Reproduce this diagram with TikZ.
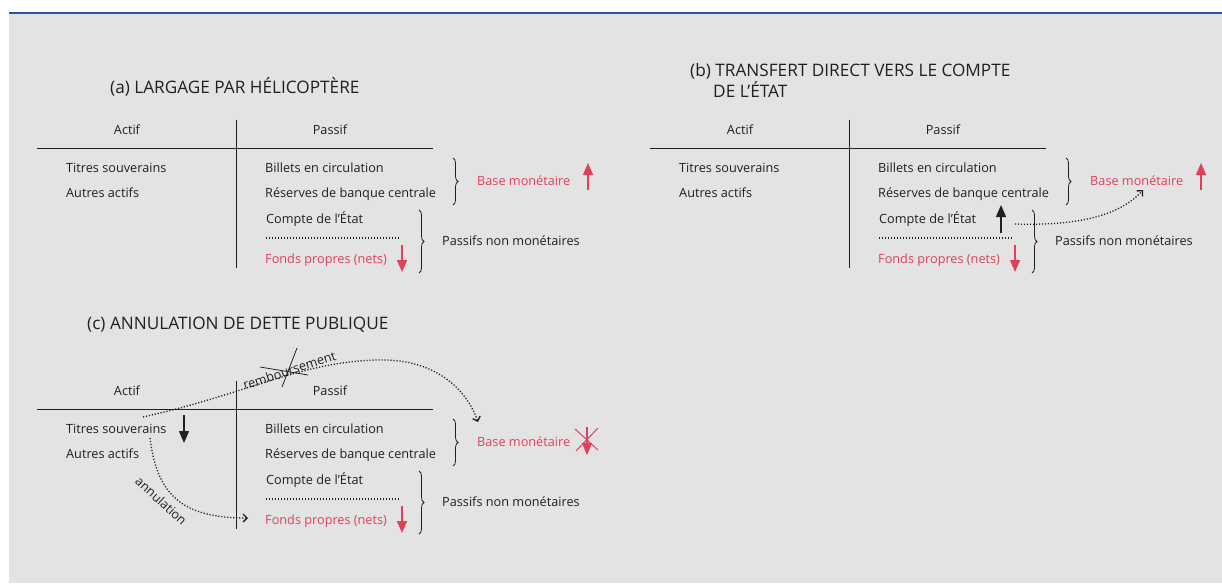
\documentclass[tikz,border=0pt]{standalone}
\usepackage{fontspec}
\setmainfont{Open Sans}
\usetikzlibrary{decorations.pathreplacing,arrows.meta,positioning}

\definecolor{fond}{HTML}{E3E3E3}
\definecolor{bleu}{HTML}{1F5C9E}
\definecolor{rouge}{HTML}{E0405A}
\definecolor{encre}{HTML}{231F20}

\tikzset{
	txt/.style={anchor=west,inner sep=0pt,text height=9pt,text depth=3pt,yshift=-2pt,font=\fontsize{12.7}{15}\selectfont,text=encre},
	rtxt/.style={txt,text=rouge},
	titre/.style={anchor=west,inner sep=0pt,yshift=-1pt,font=\fontsize{17.2}{20}\selectfont,text=encre},
	trait/.style={encre,line width=1pt},
	points/.style={encre,line width=1.3pt,dash pattern=on 1.2pt off 1.8pt},
	accolade/.style={decoration={brace,amplitude=5pt},decorate,line width=0.8pt,encre},
	fleche/.style={-{Triangle[length=12pt,width=10pt]},line width=1.4pt},
	pointille/.style={points,-{Straight Barb[length=4pt,width=8pt]}},
}

\begin{document}
\begin{tikzpicture}[x=1pt,y=-1pt]
	\useasboundingbox (0,0) rectangle (1222,583);
	\fill[white] (0,0) rectangle (1222,583);
	\fill[fond] (9,14) rectangle (1222,583);
	\draw[bleu,line width=2.8pt] (9,13) -- (1222,13);

	% titres des trois cas
	\node[titre] (titre-a) at (110,86) {(a) LARGAGE PAR HÉLICOPTÈRE};
	\node[titre] (titre-b) at (690,70) {(b) TRANSFERT DIRECT VERS LE COMPTE};
	\node[titre] (titre-b2) at (713,88) {DE L’ÉTAT};
	\node[titre] (titre-c) at (87,324) {(c) ANNULATION DE DETTE PUBLIQUE};

	% bilan de la banque centrale, le meme dans chaque cas
	\foreach \p/\dx/\dy in {a/0/0,b/613/0,c/0/261}{
		\begin{scope}[shift={(\dx,\dy)}]
			\node[txt,anchor=center] (actif-\p) at (127,129) {Actif};
			\node[txt,anchor=center] (passif-\p) at (330,129) {Passif};
			\draw[trait] (37,148) -- (433,148);
			\draw[trait] (236,120) -- (236,268);
			\node[txt] (titres-\p) at (66,167) {Titres souverains};
			\node[txt] (autres-\p) at (66,192) {Autres actifs};
			\node[txt] (billets-\p) at (265,167) {Billets en circulation};
			\node[txt] (reserves-\p) at (265,192) {Réserves de banque centrale};
			\node[rtxt] (base-\p) at (477,180) {Base monétaire};
			\node[txt] (compte-\p) at (266,218) {Compte de l’État};
			\draw[points] (266,238) -- (400,238);
			\node[rtxt] (fonds-\p) at (265,258) {Fonds propres (nets)};
			\node[txt] (passifs-\p) at (442,240) {Passifs non monétaires};
			\draw[accolade] (453,158) -- (453,205);
			\draw[accolade] (419,210) -- (419,273);
			\draw[fleche,rouge] (402,245) -- (402,272);
		\end{scope}
	}

	% (a)
	\draw[fleche,rouge] (588,190) -- (588,163);

	% (b)
	\draw[fleche,rouge] (1201,190) -- (1201,163);
	\draw[fleche,encre] (1001,233) -- (1001,205);
	\coordinate (depart-b) at (1015,224);
	\coordinate (arrivee-b) at (1143,190);
	\draw[pointille] (depart-b) .. controls (1080,226) and (1120,215) .. (arrivee-b);

	% (c)
	\draw[fleche,encre] (184,415) -- (184,443);
	\draw[fleche,rouge] (587,427) -- (587,455);
	\draw[rouge,line width=1pt] (575,429) -- (598,450) (598,428) -- (576,451);
	\coordinate (depart-r) at (143,417);
	\coordinate (sommet-r) at (377,360);
	\coordinate (arrivee-r) at (478,422);
	\draw[pointille] (depart-r) .. controls (250,393) and (300,362) .. (sommet-r)
		.. controls (430,358) and (465,385) .. (arrivee-r);
	\node[txt,anchor=center,rotate=18] (rembt) at (290,370) {remboursement};
	\draw[encre,line width=0.8pt] (297,348) -- (282,387) (260,367) -- (308,375);
	\coordinate (depart-n) at (150,438);
	\coordinate (arrivee-n) at (248,518);
	\draw[pointille] (depart-n) .. controls (157,495) and (182,518) .. (arrivee-n);
	\node[txt,anchor=center,rotate=-42] (annul) at (160,500) {annulation};
\end{tikzpicture}
\end{document}
